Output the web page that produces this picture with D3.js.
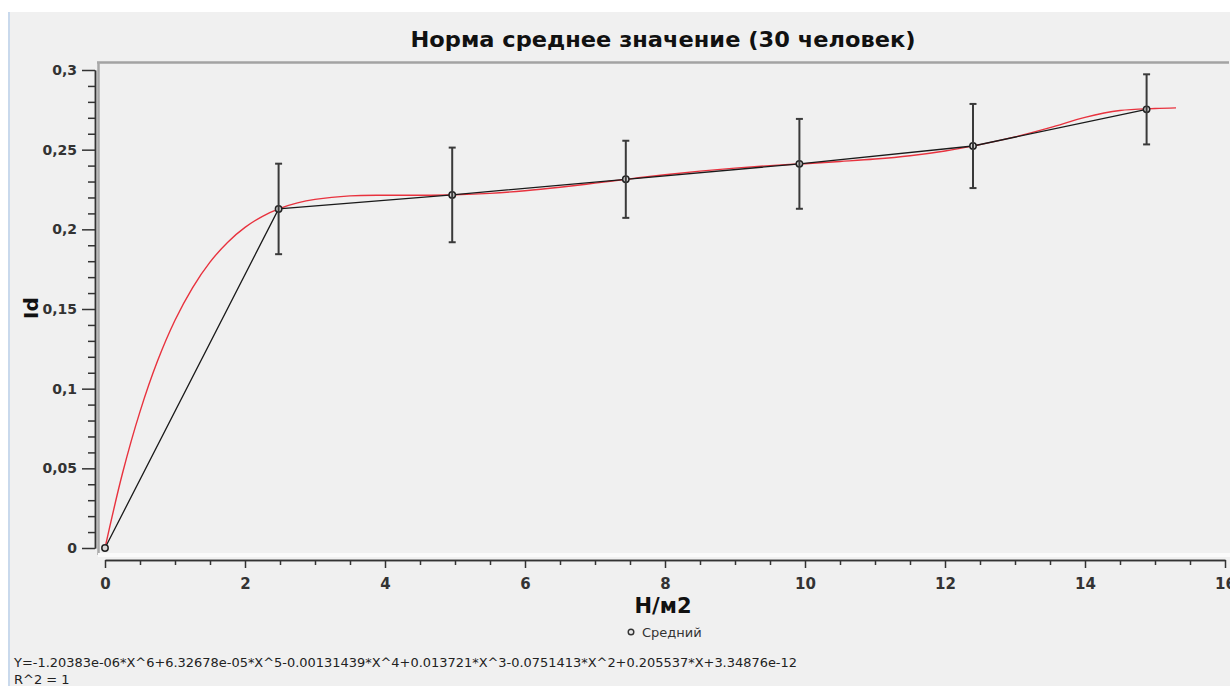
<!DOCTYPE html>
<html>
<head>
<meta charset="utf-8">
<script src="https://cdn.jsdelivr.net/npm/d3@7"></script>
<style>
  html, body { margin: 0; padding: 0; background: #f0f0f0; }
  svg { display: block; }
  text { font-family: "DejaVu Sans", Verdana, sans-serif; }
</style>
</head>
<body>
<svg id="chart" width="1230" height="686"></svg>
<script>
// Mean Id per load level (Н/м2), 30 people
const loadX = [0, 2.48, 4.96, 7.44, 9.92, 12.4, 14.88];
const meanId = [0, 0.2128, 0.2216, 0.2314, 0.2411, 0.2523, 0.2753];
const errId = [0, 0.0284, 0.0297, 0.0242, 0.0282, 0.0264, 0.0220];

// Polynomial trend line, sampled along the load axis
const fitX = [0, 0.25, 0.5, 0.75, 1, 1.25, 1.5, 1.75, 2, 2.25, 2.5, 2.75, 3, 3.5, 4, 4.5, 5, 5.5, 6, 6.5, 7, 7.5, 8, 8.5, 9, 9.5, 10, 10.5, 11, 11.5, 12, 12.5, 13, 13.5, 14, 14.5, 15, 15.3];
const fitY = [0, 0.0469, 0.0856, 0.1173, 0.1429, 0.1633, 0.1794, 0.1918, 0.2012, 0.2082, 0.2132, 0.2166, 0.2188, 0.2210, 0.2214, 0.2214, 0.2217, 0.2226, 0.2242, 0.2264, 0.2290, 0.2317, 0.2343, 0.2365, 0.2384, 0.2400, 0.2412, 0.2426, 0.2441, 0.2462, 0.2492, 0.2532, 0.2580, 0.2638, 0.2703, 0.2746, 0.2758, 0.2762];

const xTicks = [0, 2, 4, 6, 8, 10, 12, 14, 16];
const yTicks = [0, 0.05, 0.1, 0.15, 0.2, 0.25, 0.3];

const titleText = "Норма среднее значение (30 человек)";
const xLabel = "Н/м2";
const yLabel = "Id";
const legendLabel = "Средний";
const formulaText = "Y=-1.20383e-06*X^6+6.32678e-05*X^5-0.00131439*X^4+0.013721*X^3-0.0751413*X^2+0.205537*X+3.34876e-12";
const r2Text = "R^2 = 1";

const W = 1230, H = 686;
const svg = d3.select("#chart");

// window background and border strips
svg.append("rect").attr("width", W).attr("height", H).attr("fill", "#f0f0f0");
svg.append("rect").attr("width", W).attr("height", 12).attr("fill", "#ffffff");
svg.append("rect").attr("y", 12).attr("width", 8).attr("height", H - 12).attr("fill", "#ffffff");
svg.append("rect").attr("x", 8).attr("y", 12).attr("width", 2).attr("height", H - 12).attr("fill", "#c9d9ec");

const x = d3.scaleLinear().domain([0, 16]).range([105, 1225]);
const y = d3.scaleLinear().domain([0, 0.3]).range([548, 70]);

// plot frame: top and left edges, light strip at the bottom
svg.append("line").attr("x1", 97).attr("x2", 1229).attr("y1", 62.5).attr("y2", 62.5)
  .attr("stroke", "#a3a3a3").attr("stroke-width", 2.5);
svg.append("line").attr("x1", 98.5).attr("x2", 98.5).attr("y1", 62).attr("y2", 555)
  .attr("stroke", "#a8a8a8").attr("stroke-width", 2.5);
svg.append("rect").attr("x", 98).attr("y", 553).attr("width", 1132).attr("height", 4).attr("fill", "#fafafa");

const fmt = v => d3.format(".2~f")(v).replace(".", ",");

// Y axis
const yMinor = d3.range(0, 31).map(i => i / 100).filter((v, i) => i % 5 !== 0);
const yAxisMinor = svg.append("g").attr("transform", "translate(95,0)")
  .call(d3.axisLeft(y).tickValues(yMinor).tickSize(7).tickSizeOuter(0).tickFormat(""));
const yAxis = svg.append("g").attr("transform", "translate(95,0)")
  .call(d3.axisLeft(y).tickValues(yTicks).tickSize(13).tickSizeOuter(0).tickPadding(5).tickFormat(fmt));
[yAxisMinor, yAxis].forEach(g => {
  g.selectAll("path.domain").attr("stroke", "#333").attr("stroke-width", 1.5);
  g.selectAll(".tick line").attr("stroke", "#333").attr("stroke-width", 1.5);
});
yAxis.selectAll("text").attr("fill", "#333").attr("font-size", 14).attr("font-weight", "bold")
  .attr("font-family", "DejaVu Sans, sans-serif");

// X axis
const xMinor = d3.range(0, 33).map(i => i / 2).filter((v, i) => i % 4 !== 0);
const xAxisMinor = svg.append("g").attr("transform", "translate(0,560)")
  .call(d3.axisBottom(x).tickValues(xMinor).tickSize(5).tickSizeOuter(0).tickFormat(""));
const xAxis = svg.append("g").attr("transform", "translate(0,560)")
  .call(d3.axisBottom(x).tickValues(xTicks).tickSize(8).tickSizeOuter(0).tickPadding(10).tickFormat(fmt));
[xAxisMinor, xAxis].forEach(g => {
  g.selectAll("path.domain").attr("stroke", "#333").attr("stroke-width", 1.5);
  g.selectAll(".tick line").attr("stroke", "#333").attr("stroke-width", 1.5);
});
xAxis.selectAll("text").attr("fill", "#333").attr("font-size", 15).attr("font-weight", "bold")
  .attr("font-family", "DejaVu Sans, sans-serif");

// trend curve
const fitData = fitX.map((v, i) => [v, fitY[i]]);
svg.append("path").datum(fitData)
  .attr("fill", "none").attr("stroke", "#e8323e").attr("stroke-width", 1.4)
  .attr("d", d3.line().x(d => x(d[0])).y(d => y(d[1])).curve(d3.curveCatmullRom));

// mean line
const meanData = loadX.map((v, i) => ({ x: v, y: meanId[i], e: errId[i] }));
svg.append("path").datum(meanData)
  .attr("fill", "none").attr("stroke", "#1a1a1a").attr("stroke-width", 1.3)
  .attr("d", d3.line().x(d => x(d.x)).y(d => y(d.y)));

// points
svg.append("g").selectAll("circle").data(meanData).join("circle")
  .attr("cx", d => x(d.x)).attr("cy", d => y(d.y)).attr("r", 3.2)
  .attr("fill", "#d8d8d8").attr("stroke", "#222").attr("stroke-width", 1.5);

// error bars
const eb = svg.append("g").attr("stroke", "#3a3a3a").attr("stroke-width", 2)
  .selectAll("g").data(meanData.filter(d => d.e > 0)).join("g");
eb.append("line").attr("x1", d => x(d.x)).attr("x2", d => x(d.x))
  .attr("y1", d => y(d.y + d.e)).attr("y2", d => y(d.y - d.e));
eb.append("line").attr("x1", d => x(d.x) - 3.5).attr("x2", d => x(d.x) + 3.5)
  .attr("y1", d => y(d.y + d.e)).attr("y2", d => y(d.y + d.e));
eb.append("line").attr("x1", d => x(d.x) - 3.5).attr("x2", d => x(d.x) + 3.5)
  .attr("y1", d => y(d.y - d.e)).attr("y2", d => y(d.y - d.e));

// titles
svg.append("text").attr("x", 663).attr("y", 47).attr("text-anchor", "middle")
  .attr("font-size", 22).attr("font-weight", "bold").attr("fill", "#111")
  .attr("textLength", 505).attr("lengthAdjust", "spacingAndGlyphs").text(titleText);
svg.append("text").attr("x", 663).attr("y", 613).attr("text-anchor", "middle")
  .attr("font-size", 21).attr("font-weight", "bold").attr("fill", "#111").text(xLabel);
svg.append("text").attr("transform", "translate(38,308) rotate(-90)").attr("text-anchor", "middle")
  .attr("font-size", 20).attr("font-weight", "bold").attr("fill", "#111").text(yLabel);

// legend
svg.append("circle").attr("cx", 631).attr("cy", 632).attr("r", 2.8)
  .attr("fill", "#e8e8e8").attr("stroke", "#333").attr("stroke-width", 1.4);
svg.append("text").attr("x", 642).attr("y", 637).attr("font-size", 13).attr("fill", "#333").text(legendLabel);

// regression equation
svg.append("text").attr("x", 14).attr("y", 667).attr("font-size", 13).attr("fill", "#222")
  .attr("textLength", 783).attr("lengthAdjust", "spacingAndGlyphs").text(formulaText);
svg.append("text").attr("x", 14).attr("y", 684).attr("font-size", 13).attr("fill", "#222").text(r2Text);
</script>
</body>
</html>
